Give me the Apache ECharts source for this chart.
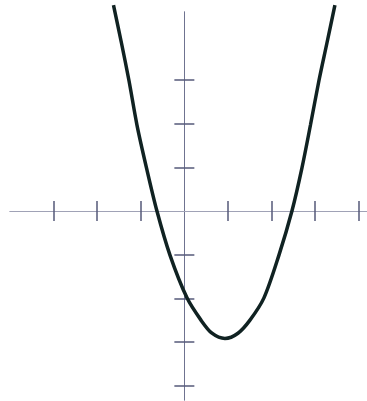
<!DOCTYPE html>
<html>
<head>
<meta charset="utf-8">
<style>
html,body{margin:0;padding:0;background:#fff;}
#chart{width:367px;height:401px;}
</style>
<script src="https://cdn.jsdelivr.net/npm/echarts@6/dist/echarts.min.js"></script>
</head>
<body>
<div id="chart"></div>
<script>
// Curve points
const curveX = [-1.626, -1.443, -1.271, -1.087, -0.869, -0.629, -0.330, 0.060, 0.381, 0.633, 0.931, 1.230, 1.505, 1.826, 2.170, 2.468, 2.698, 2.893, 3.088, 3.271, 3.454];
const curveY = [4.72, 3.85, 2.99, 1.97, 0.99, 0.00, -1.01, -1.99, -2.50, -2.80, -2.92, -2.80, -2.50, -1.99, -1.01, 0.00, 0.99, 1.97, 2.99, 3.85, 4.72];
// Tick positions
const xTicks = [-3, -2, -1, 1, 2, 3, 4];
const yTicks = [-4, -3, -2, -1, 1, 2, 3];
// Axis ranges
const xRange = [-4, 4.19];
const yRange = [-4.33, 4.56];

const pts = curveX.map((x, i) => [x, curveY[i]]);

const tickStyle = {color: '#555a7a', width: 1.5};

function xAxisDef(pos) {
  return {
    type: 'value', min: xRange[0], max: xRange[1], position: pos,
    axisLine: {show: true, onZero: true, lineStyle: {color: '#a0a2b6', width: 1}},
    axisTick: {show: true, inside: false, length: 10, customValues: xTicks, lineStyle: tickStyle},
    axisLabel: {show: false}, splitLine: {show: false}
  };
}
function yAxisDef(pos) {
  return {
    type: 'value', min: yRange[0], max: yRange[1], position: pos,
    axisLine: {show: true, onZero: true, lineStyle: {color: '#6f7390', width: 1}},
    axisTick: {show: true, inside: false, length: 10, customValues: yTicks, lineStyle: tickStyle},
    axisLabel: {show: false}, splitLine: {show: false}
  };
}

const chart = echarts.init(document.getElementById('chart'), null, {renderer: 'canvas'});
chart.setOption({
  animation: false,
  backgroundColor: '#ffffff',
  grid: {left: 10, top: 12, width: 357, height: 388, containLabel: false},
  xAxis: [xAxisDef('bottom'), xAxisDef('top')],
  yAxis: [yAxisDef('left'), yAxisDef('right')],
  series: [{
    type: 'line', xAxisIndex: 0, yAxisIndex: 0,
    data: pts, symbol: 'none', smooth: 0.3, clip: false,
    lineStyle: {color: '#102222', width: 3.5}
  }]
});
</script>
</body>
</html>
